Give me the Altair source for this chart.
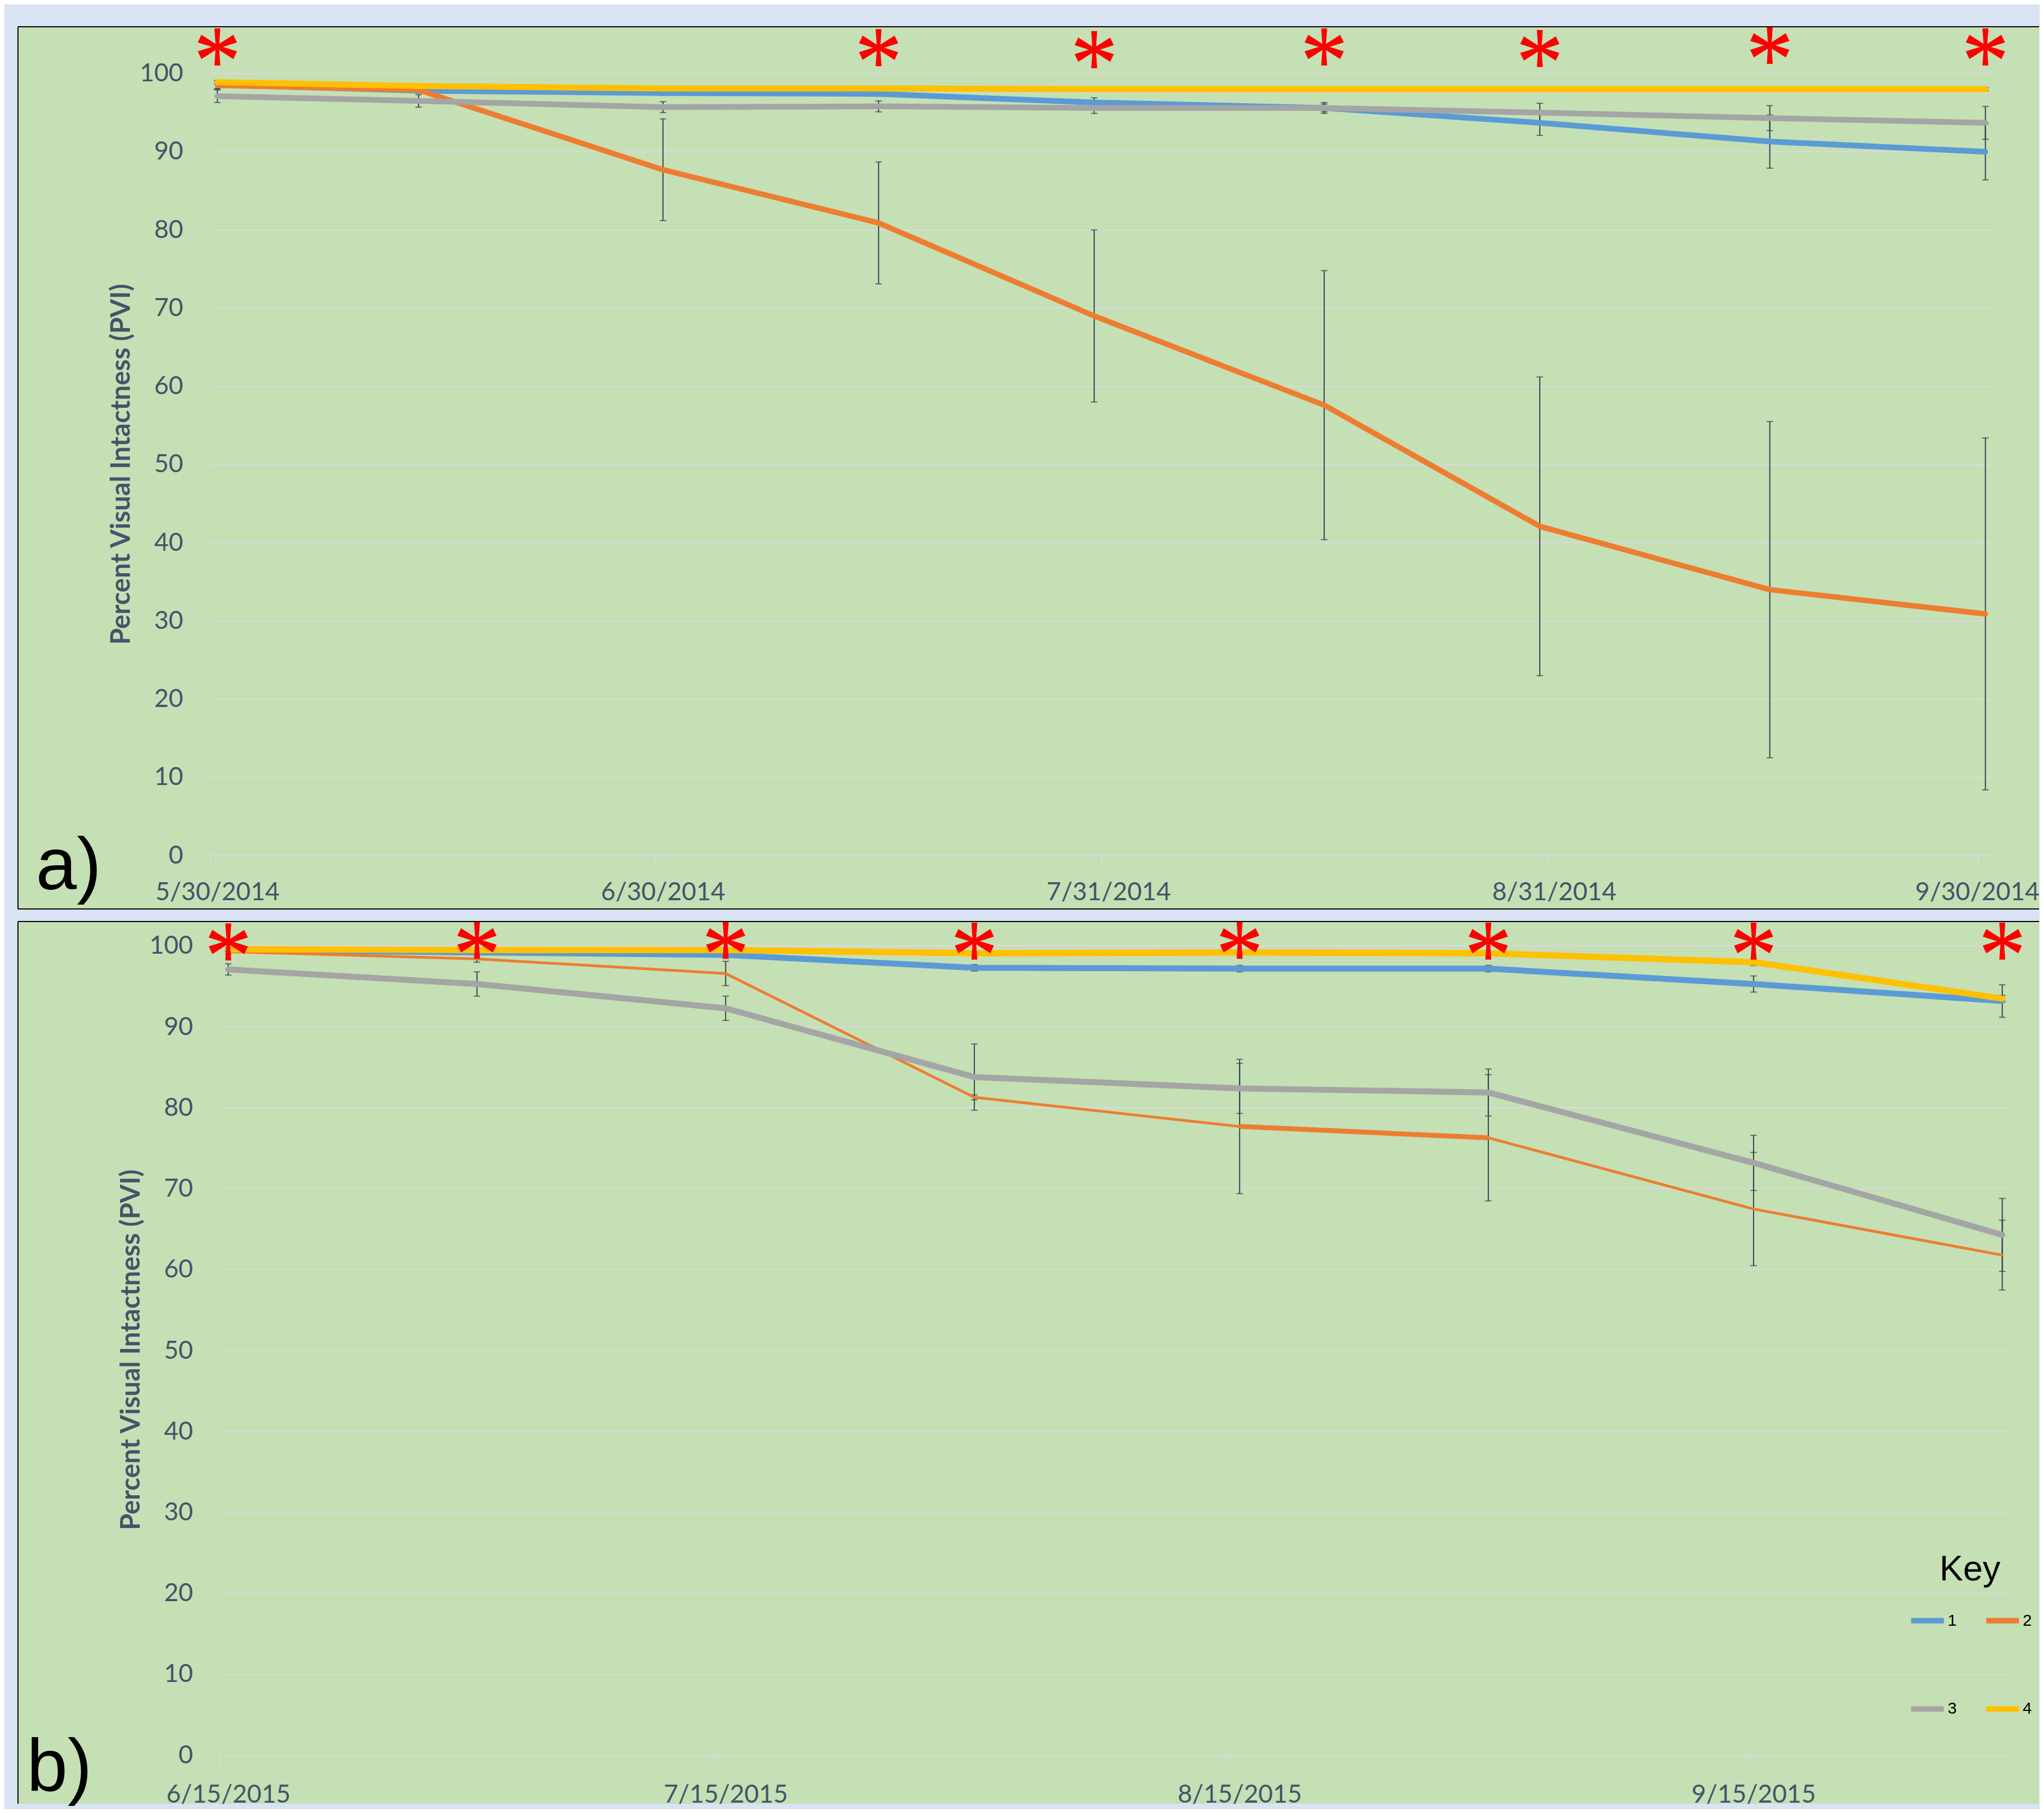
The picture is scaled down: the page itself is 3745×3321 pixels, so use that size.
import math
import altair as alt
import pandas as pd

# ---------------- data ----------------
SERIES = ["1", "2", "3", "4"]
COLORS = ["#5B9BD5", "#ED7D31", "#A5A5A5", "#FFC000"]

# panel a) 2014
dates_a = ["2014-05-30", "2014-06-13", "2014-06-30", "2014-07-15", "2014-07-30",
           "2014-08-15", "2014-08-30", "2014-09-15", "2014-09-30"]
s1_a = [98.6, 97.8, 97.5, 97.4, 96.3, 95.6, 93.7, 91.3, 90.0]
s2_a = [98.5, 97.9, 87.7, 80.9, 69.0, 57.6, 42.1, 34.0, 30.9]
s3_a = [97.1, 96.5, 95.7, 95.8, 95.6, 95.6, 95.0, 94.3, 93.7]
s4_a = [98.9, 98.4, 98.1, 98.1, 98.0, 98.0, 98.0, 98.0, 98.0]
e1_a = [0.5, 0.3, 0.3, 0.3, 0.6, 0.5, 1.6, 3.4, 3.6]
e2_a = [0.5, 0.3, 6.5, 7.8, 11.0, 17.2, 19.1, 21.5, 22.5]
e3_a = [0.8, 0.8, 0.7, 0.7, 0.7, 0.7, 1.2, 1.6, 2.1]
e4_a = [0.2, 0.1, 0.1, 0.1, 0.1, 0.1, 0.1, 0.1, 0.2]
star_dates_a = ["2014-05-30", "2014-07-15", "2014-07-30", "2014-08-15",
                "2014-08-30", "2014-09-15", "2014-09-30"]
star_y_a = [103.4, 103.3, 103.05, 103.4, 103.2, 103.6, 103.4]
tick_dates_a = ["2014-05-30", "2014-06-30", "2014-07-31", "2014-08-31", "2014-09-30"]
tick_labels_a = ["5/30/2014", "6/30/2014", "7/31/2014", "8/31/2014", "9/30/2014"]
axis_end_a = "2014-10-01"

# panel b) 2015
dates_b = ["2015-06-15", "2015-06-30", "2015-07-15", "2015-07-30",
           "2015-08-15", "2015-08-30", "2015-09-15", "2015-09-30"]
s1_b = [99.5, 99.2, 98.9, 97.3, 97.2, 97.2, 95.3, 93.2]
s2_b = [99.3, 98.4, 96.6, 81.3, 77.7, 76.3, 67.5, 61.8]
s3_b = [97.1, 95.3, 92.3, 83.8, 82.4, 81.9, 73.2, 64.3]
s4_b = [99.6, 99.5, 99.5, 99.1, 99.2, 99.1, 98.0, 93.5]
e1_b = [0.2, 0.3, 0.4, 0.4, 0.4, 0.4, 1.0, 2.0]
e2_b = [0.3, 0.4, 1.5, 0.3, 8.3, 7.8, 7.0, 4.3]
e3_b = [0.7, 1.5, 1.5, 4.1, 3.1, 2.9, 3.4, 4.5]
e4_b = [0.2, 0.2, 0.2, 0.2, 0.2, 0.3, 0.4, 0.4]
# series 2 segment that is drawn heavier in panel b
heavy_series_b = "2"
heavy_dates_b = ["2015-08-15", "2015-08-30"]
star_dates_b = dates_b
star_y_b = [100.5, 100.7, 100.7, 100.6, 100.7, 100.6, 100.6, 100.6]
tick_dates_b = ["2015-06-15", "2015-07-15", "2015-08-15", "2015-09-15"]
tick_labels_b = ["6/15/2015", "7/15/2015", "8/15/2015", "9/15/2015"]
axis_end_b = "2015-10-01"

grid_values = [0, 10, 20, 30, 40, 50, 60, 70, 80, 90, 100]
legend_order = ["1", "3", "2", "4"]

# ---------------- helpers ----------------
INK = "#44546A"
ERR = "#323F4F"
FONT = "Lato"


def day_of(d, start):
    return (pd.Timestamp(d) - pd.Timestamp(start)).days


def long_df(dates, vals, errs):
    start = dates[0]
    rows = []
    for name, v, e in zip(SERIES, vals, errs):
        for d, vv, ee in zip(dates, v, e):
            rows.append(dict(series=name, date=d, day=day_of(d, start) + 0.5,
                             v=vv, lo=vv - ee, hi=vv + ee))
    return pd.DataFrame(rows)


def asterisk_path():
    parts = []
    for ang, L, wt, wc in [(90, 1.0, 0.16, 0.09), (25, 1.06, 0.23, 0.09), (-25, 1.06, 0.23, 0.09)]:
        a = math.radians(ang)
        dx, dy = math.cos(a), math.sin(a)
        nx, ny = -dy, dx
        tx, ty = dx * L, dy * L
        pts = [(tx + nx * wt, ty + ny * wt), (nx * wc, ny * wc), (-tx + nx * wt, -ty + ny * wt),
               (-tx - nx * wt, -ty - ny * wt), (-nx * wc, -ny * wc), (tx - nx * wt, ty - ny * wt)]
        parts.append("M" + "L".join(f"{x:.3f},{y:.3f}" for x, y in pts) + "Z")
    return "".join(parts)


STAR = asterisk_path()


def label_expr(days, labels):
    expr = "''"
    for d, l in reversed(list(zip(days, labels))):
        expr = f"datum.value == {d} ? '{l}' : ({expr})"
    return expr


def panel(dates, vals, errs, star_dates, star_y, tick_dates, tick_labels, axis_end,
          W, H, xdom, ydom, x_off, y_off, xlab_pad, xlab_shift, title_y, ptitle, widths,
          legend, border_bottom, heavy=None):
    start = dates[0]
    df = long_df(dates, vals, errs)
    stars = pd.DataFrame(dict(day=[day_of(d, start) + 0.5 for d in star_dates], v=star_y))
    grid = pd.DataFrame(dict(v=grid_values, x0=0, x1=day_of(axis_end, start)))
    tick_days = [day_of(d, start) for d in tick_dates]

    # panel frame (left, top and optionally bottom edge of the view)
    hb = [dict(x0=xdom[0], x1=xdom[1], v=ydom[1])]
    if border_bottom:
        hb.append(dict(x0=xdom[0], x1=xdom[1], v=ydom[0]))
    hframe = pd.DataFrame(hb)
    vframe = pd.DataFrame([dict(x0=xdom[0], lo=ydom[0], hi=ydom[1])])

    xs = alt.Scale(domain=xdom, nice=False, zero=False)
    ys = alt.Scale(domain=ydom, nice=False, zero=False)
    # labels sit half a day right of their tick; the last one is kept inside the page
    lab_off = xlab_shift
    if isinstance(xlab_shift, tuple):
        lab_off = {"condition": {"test": f"datum.value == {tick_days[-1]}",
                                 "value": xlab_shift[1]},
                   "value": xlab_shift[0]}
    xaxis = alt.Axis(values=tick_days, labelExpr=label_expr(tick_days, tick_labels), title=None,
                     grid=False, domain=False, ticks=True, tickColor="#D9D9D9", tickWidth=2.5,
                     tickSize=16, labelFont=FONT, labelFontSize=46, labelColor=INK,
                     labelPadding=xlab_pad, labelOffset=lab_off, offset=x_off,
                     labelFlush=False, labelOverlap=False, labelLimit=0)
    yaxis = alt.Axis(values=grid_values, title="Percent Visual Intactness (PVI)", grid=False,
                     domain=False, ticks=False, labelFont=FONT, labelFontSize=46, labelColor=INK,
                     labelPadding=50, offset=y_off, titleFont=FONT, titleFontSize=49,
                     titleFontWeight="bold", titleColor=INK, titlePadding=8, titleY=title_y,
                     labelOverlap=False)

    def X(f):
        return alt.X(f, type="quantitative", scale=xs, axis=xaxis)

    def Y(f):
        return alt.Y(f, type="quantitative", scale=ys, axis=yaxis)

    layers = [
        alt.Chart(grid).mark_rule(color="#D9D9D9", strokeWidth=2.5).encode(
            x=X("x0"), x2=alt.X2("x1"), y=Y("v")),
        alt.Chart(df).mark_rule(color=ERR, strokeWidth=2).encode(
            x=X("day"), y=Y("lo"), y2=alt.Y2("hi")),
        alt.Chart(df).mark_tick(orient="horizontal", size=12, thickness=2, color=ERR).encode(
            x=X("day"), y=Y("lo")),
        alt.Chart(df).mark_tick(orient="horizontal", size=12, thickness=2, color=ERR).encode(
            x=X("day"), y=Y("hi")),
    ]
    cscale = alt.Scale(domain=SERIES, range=COLORS)
    for name, w in zip(SERIES, widths):
        layers.append(
            alt.Chart(df[df.series == name]).mark_line(strokeWidth=w, strokeCap="round",
                                                       strokeJoin="round").encode(
                x=X("day"), y=Y("v"),
                color=alt.Color("series:N", scale=cscale, legend=legend)))
        if heavy is not None and heavy[0] == name:
            seg = df[(df.series == name) & (df.date.isin(heavy[1]))]
            layers.append(
                alt.Chart(seg).mark_line(strokeWidth=heavy[2], strokeCap="butt",
                                         strokeJoin="round").encode(
                    x=X("day"), y=Y("v"),
                    color=alt.Color("series:N", scale=cscale, legend=legend)))
    layers.append(
        alt.Chart(stars).mark_point(shape=STAR, filled=True, color="#FF0000", size=4624,
                                    opacity=1, strokeWidth=0).encode(x=X("day"), y=Y("v")))
    layers.append(
        alt.Chart(hframe).mark_rule(color="black", strokeWidth=2).encode(
            x=X("x0"), x2=alt.X2("x1"), y=Y("v")))
    layers.append(
        alt.Chart(vframe).mark_rule(color="black", strokeWidth=2).encode(
            x=X("x0"), y=Y("lo"), y2=alt.Y2("hi")))
    return alt.layer(*layers).properties(width=W, height=H, title=ptitle)


W = 3712
H1 = 1620
H2 = 1620

top = panel(dates_a, [s1_a, s2_a, s3_a, s4_a], [e1_a, e2_a, e3_a, e4_a],
            star_dates_a, star_y_a, tick_dates_a, tick_labels_a, axis_end_a,
            W, H1, [-13.371, 127.235], [-6.825, 105.989], -98, -353, 29, (13, -2), 803,
            alt.TitleParams(text="a)", orient="bottom", anchor="start", frame="group",
                            font="Liberation Sans", fontSize=135, fontWeight="normal",
                            color="black", baseline="alphabetic", offset=-37, dx=33),
            [10.5, 10, 10.5, 11], None, True)

key_legend = alt.Legend(title="Key", orient="none", legendX=3472, legendY=1159, columns=2,
                        values=legend_order,
                        symbolType="stroke", symbolSize=3600, symbolStrokeWidth=10,
                        labelFont="Liberation Sans", labelFontSize=30, labelColor="black",
                        labelOffset=2, titleFont="Liberation Sans", titleFontSize=65,
                        titleColor="black", titleFontWeight="normal", titleAnchor="middle",
                        titlePadding=25, rowPadding=107, columnPadding=34, padding=0,
                        symbolOpacity=1)

bottom = panel(dates_b, [s1_b, s2_b, s3_b, s4_b], [e1_b, e2_b, e3_b, e4_b],
               star_dates_b, star_y_b, tick_dates_b, tick_labels_b, axis_end_b,
               W, H2, [-12.184, 109.72], [-5.989, 103.028], -89, -371, 34, 15, 786,
               alt.TitleParams(text="b)", orient="bottom", anchor="start", frame="group",
                               font="Liberation Sans", fontSize=135, fontWeight="normal",
                               color="black", baseline="alphabetic", offset=-30, dx=16),
               [11, 5, 11, 11.5], key_legend, False,
               heavy=(heavy_series_b, heavy_dates_b, 9))

chart = (alt.vconcat(top, bottom, spacing=21)
         .resolve_scale(color="independent")
         .properties(background="#DAE3F3",
                     padding={"left": 24, "top": 36, "right": 0, "bottom": 0})
         .configure_view(fill="#C5E0B4", stroke=None))

chart.save("out.html", embed_options={"renderer": "svg", "actions": False})
